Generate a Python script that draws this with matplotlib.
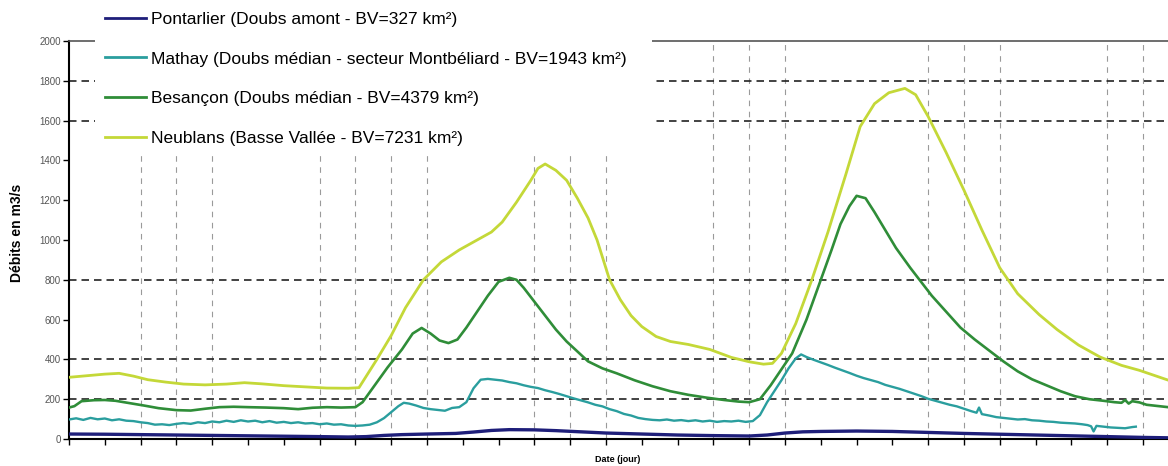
import matplotlib
matplotlib.use("Agg")
import matplotlib.pyplot as plt
from matplotlib.patches import Rectangle

plt.rcParams['font.family'] = ['Liberation Sans', 'DejaVu Sans']

# ---------------- data ----------------
series_labels = [
    "Pontarlier (Doubs amont - BV=327 km²)",
    "Mathay (Doubs médian - secteur Montbéliard - BV=1943 km²)",
    "Besançon (Doubs médian - BV=4379 km²)",
    "Neublans (Basse Vallée - BV=7231 km²)",
]
series_colors = ["#1e1e7a", "#2a9e9e", "#2f8d38", "#c4d838"]

pontarlier_days = [0.0, 1.0, 2.0, 3.0, 4.0, 5.0, 6.0, 7.0, 7.8, 8.3, 8.8, 9.3, 10.0,
                   10.8, 11.3, 11.8, 12.3, 13.0, 13.6, 14.3, 15.0, 16.0, 17.0, 18.0,
                   19.0, 19.5, 20.0, 20.5, 21.0, 22.0, 23.0, 24.0, 25.0, 26.0, 27.0,
                   28.0, 29.0, 30.0, 30.7]
pontarlier_q = [25, 24, 22, 20, 18, 16, 14, 12, 10, 12, 18, 22, 25,
                28, 35, 43, 47, 46, 42, 36, 30, 25, 20, 17,
                15, 20, 30, 36, 38, 40, 38, 33, 28, 24, 20,
                16, 12, 8, 6]

mathay_days = [0.0, 0.2, 0.4, 0.6, 0.8, 1.0, 1.2, 1.4, 1.6, 1.8, 2.0, 2.2, 2.4, 2.6,
               2.8, 3.0, 3.2, 3.4, 3.6, 3.8, 4.0, 4.2, 4.4, 4.6, 4.8, 5.0, 5.2, 5.4,
               5.6, 5.8, 6.0, 6.2, 6.4, 6.6, 6.8, 7.0, 7.2, 7.4, 7.6, 7.8, 8.0, 8.2,
               8.4, 8.6, 8.8, 9.0, 9.2, 9.35, 9.5, 9.7, 9.9, 10.1, 10.3, 10.5, 10.7,
               10.9, 11.1, 11.3, 11.5, 11.7, 11.9, 12.1, 12.3, 12.5, 12.7, 12.9,
               13.1, 13.3, 13.5, 13.7, 13.9, 14.1, 14.3, 14.5, 14.7, 14.9, 15.1,
               15.3, 15.5, 15.7, 15.9, 16.1, 16.3, 16.5, 16.7, 16.9, 17.1, 17.3,
               17.5, 17.7, 17.9, 18.1, 18.3, 18.5, 18.7, 18.9, 19.1, 19.3, 19.5,
               19.7, 19.9, 20.1, 20.3, 20.45, 20.6, 20.8, 21.0, 21.2, 21.4, 21.6,
               21.8, 22.0, 22.2, 22.4, 22.6, 22.8, 23.0, 23.2, 23.4, 23.6, 23.8,
               24.0, 24.2, 24.4, 24.6, 24.8, 25.0, 25.2, 25.35, 25.42, 25.5, 25.7,
               25.9, 26.1, 26.3, 26.5, 26.7, 26.9, 27.1, 27.3, 27.5, 27.7, 27.9,
               28.1, 28.3, 28.45, 28.55, 28.62, 28.7, 28.9, 29.1, 29.3, 29.5, 29.7,
               29.8]
mathay_q = [98, 104, 96, 106, 99, 103, 94, 99, 92, 90, 84, 80, 72, 74,
            70, 76, 80, 76, 84, 80, 88, 84, 92, 86, 94, 88, 92, 84,
            90, 82, 86, 80, 84, 78, 80, 74, 78, 72, 74, 68, 66, 68,
            72, 84, 105, 135, 165, 182, 178, 168, 156, 150, 146, 142, 156,
            160, 185, 255, 298, 302, 298, 294, 286, 280, 270, 262,
            256, 245, 236, 226, 215, 204, 194, 184, 172, 164, 150,
            140, 126, 118, 106, 100, 96, 94, 98, 92, 95, 90,
            94, 88, 92, 86, 90, 88, 92, 86, 90, 120, 185,
            240, 295, 355, 405, 425, 412, 398, 385, 372, 358, 345,
            332, 318, 306, 296, 286, 272, 262, 252, 240, 228, 216,
            202, 192, 182, 172, 164, 152, 140, 132, 158, 125, 118,
            110, 106, 102, 98, 100, 94, 92, 88, 86, 82, 80,
            78, 74, 70, 64, 38, 66, 62, 58, 56, 54, 60,
            62]

besancon_days = [0.0, 0.15, 0.35, 0.7, 1.0, 1.3, 1.7, 2.1, 2.5, 3.0, 3.4, 3.8, 4.2,
                 4.6, 5.0, 5.5, 6.0, 6.4, 6.8, 7.2, 7.6, 8.0, 8.2, 8.5, 8.9, 9.3,
                 9.6, 9.85, 10.1, 10.35, 10.6, 10.85, 11.1, 11.4, 11.7, 12.0, 12.3,
                 12.5, 12.7, 13.0, 13.3, 13.6, 13.9, 14.2, 14.5, 14.9, 15.3, 15.8,
                 16.3, 16.8, 17.3, 17.8, 18.3, 18.7, 19.0, 19.3, 19.6, 19.9, 20.2,
                 20.6, 21.0, 21.3, 21.55, 21.8, 22.0, 22.25, 22.5, 22.8, 23.1, 23.5,
                 23.8, 24.1, 24.5, 24.9, 25.3, 25.7, 26.1, 26.5, 26.9, 27.3, 27.7,
                 28.1, 28.5, 28.9, 29.2, 29.4, 29.5, 29.6, 29.7, 29.9, 30.1, 30.4,
                 30.7]
besancon_q = [158, 165, 190, 195, 196, 192, 180, 168, 155, 145, 143, 152, 160,
              162, 160, 158, 155, 150, 157, 160, 158, 160, 185, 260, 360, 450,
              530, 558, 530, 495, 482, 500, 560, 640, 720, 790, 810,
              800, 760, 690, 620, 550, 490, 440, 390, 355, 330, 295,
              265, 240, 222, 208, 196, 188, 185, 200, 270, 350, 430,
              600, 800, 950, 1080, 1170, 1222, 1210, 1140, 1050, 960, 860,
              790, 720, 640, 560, 500, 445, 390, 340, 300, 270, 240,
              215, 200, 192, 185, 182, 196, 178, 190, 184, 172, 166,
              160]

neublans_days = [0.0, 0.5, 1.0, 1.4, 1.8, 2.2, 2.7, 3.2, 3.8, 4.4, 4.9, 5.4, 6.0,
                 6.6, 7.2, 7.8, 8.1, 8.6, 9.0, 9.4, 9.9, 10.4, 10.9, 11.4, 11.8,
                 12.1, 12.5, 12.9, 13.1, 13.3, 13.6, 13.9, 14.2, 14.5, 14.75, 15.1,
                 15.4, 15.7, 16.0, 16.4, 16.8, 17.3, 17.9, 18.5, 19.0, 19.4, 19.65,
                 19.9, 20.3, 20.75, 21.2, 21.7, 22.1, 22.5, 22.9, 23.35, 23.65, 24.0,
                 24.5, 25.0, 25.5, 26.0, 26.5, 27.1, 27.6, 28.2, 28.8, 29.4, 29.9,
                 30.7]
neublans_q = [310, 318, 326, 330, 316, 298, 286, 276, 272, 276, 283, 277, 268,
              262, 256, 255, 258, 400, 520, 660, 800, 890, 950, 1000, 1040,
              1090, 1190, 1300, 1360, 1382, 1350, 1300, 1210, 1110, 1000, 800,
              700, 620, 565, 515, 490, 475, 450, 410, 388, 376, 380,
              430, 580, 800, 1040, 1330, 1570, 1685, 1740, 1762, 1730, 1620,
              1440, 1250, 1050, 860, 730, 625, 550, 472, 412, 370, 345,
              296]

all_days = [pontarlier_days, mathay_days, besancon_days, neublans_days]
all_q = [pontarlier_q, mathay_q, besancon_q, neublans_q]
line_widths = [2.4, 1.7, 1.9, 2.0]

y_ticks = list(range(0, 2001, 200))
hgrid_levels = [200, 400, 800, 1600, 1800]
vgrid_days = [2, 3, 4, 7, 8, 9, 10, 13, 14, 15, 18, 19, 20, 24, 25, 26, 29, 30]
x_ticks = list(range(0, 31))

# ---------------- figure ----------------
W, H = 1168, 466
fig = plt.figure(figsize=(W / 100, H / 100), dpi=100)
ax = fig.add_axes([69 / W, 1 - 439 / H, (W - 69) / W, (439 - 41) / H])
ax.set_xlim(0, (W - 69) / 35.8)
ax.set_ylim(0, 2000)

for d in vgrid_days:
    ax.axvline(d, color="#9a9a9a", lw=0.8, dashes=(5, 5), zorder=1)
for lv in hgrid_levels:
    ax.axhline(lv, color="#222222", lw=1.2, dashes=(4.5, 3), zorder=1)

handles = []
for days, q, lab, col, lw in zip(all_days, all_q, series_labels, series_colors, line_widths):
    h, = ax.plot(days, q, color=col, lw=lw, label=lab, zorder=3, solid_joinstyle='round')
    handles.append(h)

ax.spines["right"].set_visible(False)
ax.spines["top"].set_color("#555555")
ax.spines["top"].set_linewidth(1.2)
ax.spines["left"].set_linewidth(1.5)
ax.spines["bottom"].set_linewidth(1.5)

ax.set_xticks(x_ticks)
ax.set_xticklabels([])
ax.tick_params(axis="x", direction="out", length=4, width=1.0, color="black")
ax.set_yticks(y_ticks)
ax.set_yticklabels([str(v) for v in y_ticks])
ax.tick_params(axis="y", direction="out", length=4, width=1.0, color="black",
               labelsize=7, labelcolor="#555555", pad=2)

fig.text(17 / W, 1 - 233 / H, "Débits en m3/s", rotation=90, ha="center", va="center",
         fontsize=10, fontweight="bold")
fig.text(618 / W, 1 - 460 / H, "Date (jour)", ha="center", va="center",
         fontsize=6.5, fontweight="bold")

# white area behind the legend (legend box of the original chart)
fig.patches.append(Rectangle((98 / W, 1 - 155 / H), (652 - 98) / W, 155 / H,
                             transform=fig.transFigure, facecolor="white",
                             edgecolor="none", zorder=1))

leg = fig.legend(handles=handles, labels=series_labels, loc="upper left",
                 bbox_to_anchor=(95 / W, 1 - 2 / H), bbox_transform=fig.transFigure,
                 fontsize=12.5, handlelength=2.4, handletextpad=0.3,
                 labelspacing=1.42, borderpad=0.55, borderaxespad=0,
                 frameon=True, fancybox=False, framealpha=1.0)
leg.get_frame().set_facecolor("white")
leg.get_frame().set_edgecolor("none")
leg.set_zorder(5)
for ln in leg.get_lines():
    ln.set_linewidth(2.0)

fig.savefig("out.png", dpi=100)
